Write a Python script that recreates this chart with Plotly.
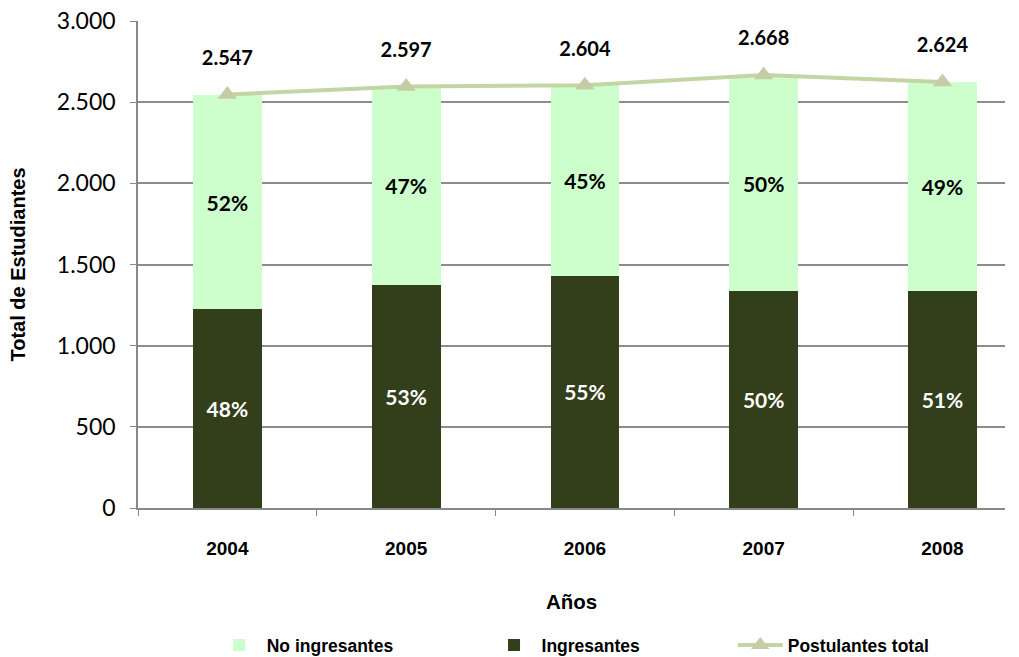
import plotly.graph_objects as go

years = ["2004", "2005", "2006", "2007", "2008"]
ingresantes = [1223, 1376, 1432, 1334, 1338]
no_ingresantes = [1324, 1221, 1172, 1334, 1286]
postulantes_total = [2547, 2597, 2604, 2668, 2624]
pct_ingresantes = ["48%", "53%", "55%", "50%", "51%"]
pct_no_ingresantes = ["52%", "47%", "45%", "50%", "49%"]
total_labels = [f"{v:,}".replace(",", ".") for v in postulantes_total]

calibri = "Lato, 'Open Sans', sans-serif"
arial = "Arial, 'Liberation Sans', sans-serif"

fig = go.Figure()
fig.add_trace(go.Bar(
    x=years, y=ingresantes, name="Ingresantes", legend="legend2",
    marker=dict(color="#333E1A", line=dict(width=0)),
    text=pct_ingresantes, textposition="inside", insidetextanchor="middle",
    textfont=dict(family=calibri, size=21, color="white", weight="bold"),
    textangle=0, hoverinfo="skip",
))
fig.add_trace(go.Bar(
    x=years, y=no_ingresantes, name="No ingresantes", legend="legend",
    marker=dict(color="#CCFFCC", line=dict(width=0)),
    text=pct_no_ingresantes, textposition="inside", insidetextanchor="middle",
    textfont=dict(family=calibri, size=21, color="black", weight="bold"),
    textangle=0, hoverinfo="skip",
))
fig.add_trace(go.Scatter(
    x=years, y=postulantes_total, name="Postulantes total", legend="legend3",
    mode="lines+markers",
    line=dict(color="#C3D5A4", width=4),
    marker=dict(symbol="triangle-up", size=17, color="#C4CCA6"),
))
fig.add_trace(go.Scatter(
    x=years, y=postulantes_total, mode="markers+text", showlegend=False,
    text=total_labels, textposition="top center",
    marker=dict(size=38, color="rgba(0,0,0,0)"),
    textfont=dict(family=calibri, size=20, color="black", weight="bold"),
    hoverinfo="skip",
))

leg_common = dict(
    orientation="h", xanchor="left", yref="container", y=0.018, yanchor="middle",
    itemwidth=45, bgcolor="rgba(0,0,0,0)",
    font=dict(family=arial, size=17.5, color="black", weight="bold"),
)

fig.update_layout(
    width=1019, height=657,
    paper_bgcolor="white", plot_bgcolor="white",
    barmode="stack", bargap=0.615,
    separators=",.",
    margin=dict(l=138, r=14, t=21, b=149),
    showlegend=True,
    legend=dict(x=0.085, **leg_common),
    legend2=dict(x=0.402, **leg_common),
    legend3=dict(x=0.686, **leg_common),
    xaxis=dict(
        type="category", range=[-0.5, 4.35], automargin=False,
        showline=True, linecolor="#888888", linewidth=1.5,
        ticks="outside", tickson="boundaries", ticklen=6, tickcolor="#888888",
        tickfont=dict(family=arial, size=19, color="black", weight="bold"),
        ticklabelstandoff=22,
        title=dict(text="Años", font=dict(family=arial, size=20.5, color="black", weight="bold"),
                   standoff=37),
    ),
    yaxis=dict(
        range=[0, 3000], dtick=500, tickformat=",d", automargin=False,
        showgrid=True, gridcolor="#8C8C8C", gridwidth=1.5,
        showline=True, linecolor="#888888", linewidth=1.5,
        ticks="outside", ticklen=6, tickcolor="#888888",
        tickfont=dict(family=calibri, size=23, color="black"),
        ticklabelstandoff=10,
        zeroline=False,
        title=dict(text="Total de Estudiantes",
                   font=dict(family=arial, size=20, color="black", weight="bold"),
                   standoff=26),
    ),
)

fig.write_html("out.html", config={"displayModeBar": False},
               post_script="document.body.style.margin='0';")
